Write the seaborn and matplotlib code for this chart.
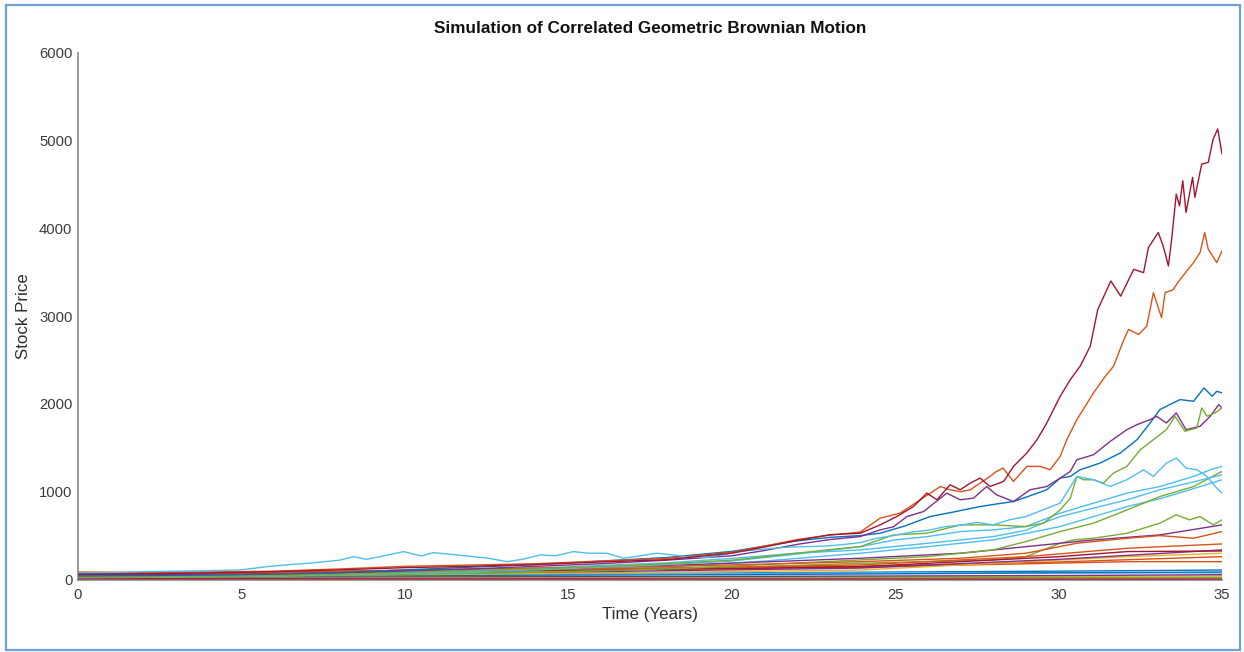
import matplotlib
matplotlib.use("Agg")
import matplotlib.pyplot as plt
from matplotlib.patches import Rectangle
import numpy as np
import pandas as pd
import seaborn as sns

# ---- simulated price paths (years, price) ----
red_t = [0, 2, 4, 6, 8, 10, 12, 14, 16, 18, 20, 21, 22, 23, 23.93, 24.54, 25.05, 25.56, 25.97, 26.28,
         26.68, 26.99, 27.3, 27.6, 27.9, 28.32, 28.62, 29.03, 29.34, 29.64, 30.05, 30.36, 30.66,
         30.97, 31.2, 31.6, 31.9, 32.3, 32.6, 32.75, 33.05, 33.2, 33.36, 33.46, 33.6, 33.7, 33.8,
         33.9, 34.1, 34.17, 34.38, 34.58, 34.73, 34.87, 35]
red_v = [60, 65, 75, 90, 110, 135, 150, 170, 200, 225, 300, 370, 445, 510, 527, 622, 717, 831, 984, 908,
         1079, 1022, 1098, 1155, 1059, 1117, 1288, 1441, 1592, 1783, 2087, 2277, 2429,
         2658, 3076, 3400, 3228, 3533, 3495, 3781, 3952, 3799, 3571, 3876, 4389, 4256, 4541,
         4180, 4580, 4352, 4732, 4751, 5017, 5131, 4846]

orange_t = [0, 2, 4, 6, 8, 10, 12, 14, 16, 18, 20, 21, 22, 23, 23.93, 24.54, 25.15, 25.77, 26.38, 26.68,
            27.0, 27.3, 27.9, 28.1, 28.3, 28.62, 29.03, 29.44, 29.74, 30.05, 30.25, 30.56, 31.07,
            31.4, 31.68, 32.0, 32.14, 32.45, 32.7, 32.9, 33.15, 33.26, 33.5, 33.72, 34.13, 34.33,
            34.47, 34.58, 34.84, 35]
orange_v = [85, 80, 85, 95, 120, 150, 165, 180, 210, 240, 310, 380, 455, 505, 540, 698, 756, 908, 1059, 1022,
            1000, 1022, 1174, 1231, 1269, 1117, 1288, 1288, 1250, 1402, 1592, 1821, 2126,
            2300, 2429, 2734, 2848, 2791, 2886, 3267, 2982, 3267, 3300, 3419, 3610, 3724,
            3952, 3761, 3610, 3742]

blue_t = [0, 2, 4, 6, 8, 10, 12, 14, 16, 18, 20, 21, 22, 23, 23.93, 24.54, 25.3, 26.07, 26.8, 27.6,
          28.1, 28.62, 29.1, 29.64, 30.05, 30.36, 30.66, 31.27, 31.89, 32.4, 32.8, 33.1, 33.4,
          33.72, 34.13, 34.45, 34.7, 34.84, 35]
blue_v = [40, 45, 50, 60, 80, 110, 140, 170, 210, 250, 320, 380, 440, 480, 500, 527, 610, 717, 770, 831,
          860, 888, 950, 1022, 1155, 1174, 1250, 1326, 1441, 1592, 1783, 1935, 1992,
          2049, 2030, 2182, 2087, 2144, 2125]

purple_t = [0, 2, 4, 6, 8, 10, 12, 14, 16, 18, 20, 21, 22, 23, 23.93, 24.54, 24.95, 25.36, 25.87, 26.58,
            26.99, 27.4, 27.8, 28.1, 28.62, 29.13, 29.64, 30.05, 30.36, 30.56, 31.07, 31.58, 32.09,
            32.4, 32.8, 33.0, 33.3, 33.6, 33.9, 34.33, 34.64, 34.9, 35]
purple_v = [30, 35, 40, 50, 70, 95, 120, 150, 180, 220, 270, 330, 400, 455, 489, 565, 600, 717, 774, 984,
            908, 927, 1059, 965, 888, 1022, 1059, 1155, 1231, 1364, 1421, 1573, 1707,
            1764, 1821, 1859, 1783, 1897, 1707, 1745, 1859, 1992, 1954]

green_t = [0, 2, 4, 6, 8, 10, 12, 14, 16, 18, 20, 21, 22, 23, 23.93, 24.95, 25.97, 27.0, 28.0, 29.0,
           29.54, 30.05, 30.36, 30.56, 30.76, 31.07, 31.37, 31.68, 32.09, 32.5, 32.9, 33.3, 33.56,
           33.87, 34.23, 34.38, 34.54, 34.8, 35]
green_v = [25, 30, 35, 45, 60, 80, 100, 120, 150, 180, 220, 260, 300, 340, 374, 508, 527, 622, 622, 603,
           642, 793, 927, 1174, 1136, 1136, 1098, 1212, 1288, 1478, 1592, 1707, 1859,
           1688, 1726, 1954, 1859, 1900, 1954]

cyan_t = [0, 1, 2, 3, 4, 5, 5.77, 6.5, 7.2, 8.0, 8.43, 8.83, 9.3, 9.96, 10.5, 10.87, 11.59, 12.1, 12.6,
          13.12, 13.6, 14.14, 14.6, 15.16, 15.6, 16.18, 16.69, 17.2, 17.71, 18.2, 18.73, 19.24, 19.7,
          20.26, 20.8, 21.28, 21.8, 22.3, 22.8, 23.32, 23.93, 24.44, 24.95, 25.5, 26.0, 26.5, 27.0,
          27.5, 28.0, 28.5, 29.0, 29.5, 30.05, 30.56, 31.07, 31.58, 32.09, 32.6, 32.9, 33.3, 33.6,
          33.9, 34.23, 34.54, 34.84, 35]
cyan_v = [75, 80, 89, 95, 100, 110, 146, 170, 190, 220, 260, 230, 265, 318, 268, 306, 280, 260, 240,
          203, 230, 280, 270, 318, 300, 299, 242, 270, 299, 280, 253, 253, 280, 318, 340, 356, 370,
          374, 380, 394, 420, 470, 500, 540, 560, 600, 620, 650, 622, 680, 717, 790, 870, 1174, 1136,
          1059, 1136, 1250, 1174, 1326, 1383, 1269, 1250, 1174, 1041, 984]

cyan2_t = [0, 2, 4, 6, 8, 10, 12, 14, 16, 18, 20, 22, 23.93, 25, 26, 27, 28, 29, 30.05, 31.07, 32.1,
           33.1, 34.13, 34.64, 35]
cyan2_v = [20, 25, 30, 40, 55, 70, 90, 110, 140, 170, 210, 290, 374, 451, 489, 546, 565, 603, 756, 870,
           984, 1059, 1174, 1250, 1288]

cyan3_t = [0, 2, 4, 6, 8, 10, 12, 14, 16, 18, 20, 22, 23.93, 26, 28, 29, 29.5, 30.05, 31.07, 32.1,
           33.1, 34, 35]
cyan3_v = [35, 40, 45, 55, 70, 90, 110, 130, 160, 190, 240, 300, 337, 413, 489, 560, 640, 717, 813, 908,
           1022, 1100, 1193]

cyan4_t = [0, 3, 6, 9, 12, 15, 18, 21, 23.93, 26, 28, 30.05, 32.1, 33.1, 34, 35]
cyan4_v = [30, 35, 45, 60, 80, 105, 140, 210, 299, 374, 451, 603, 831, 920, 1020, 1136]

green2_t = [0, 3, 6, 9, 12, 15, 18, 21, 23.93, 25.97, 28, 29, 30.05, 31.07, 32.1, 33.1, 34.13, 35]
green2_v = [30, 35, 40, 55, 70, 90, 120, 170, 223, 260, 337, 432, 546, 642, 793, 945, 1059, 1231]

green3_t = [0, 3, 6, 9, 12, 15, 18, 21, 23.93, 28, 29, 30.05, 30.46, 31.07, 32.1, 33.1, 33.6, 34.0,
            34.33, 34.73, 35]
green3_v = [45, 50, 55, 70, 85, 100, 120, 150, 185, 223, 260, 413, 451, 470, 527, 642, 736, 680,
            717, 622, 679]

purple2_t = [0, 3, 6, 9, 12, 15, 18, 21, 23.93, 27, 29, 31.07, 33.1, 35]
purple2_v = [50, 55, 65, 90, 110, 130, 160, 200, 242, 299, 374, 451, 508, 622]

orange2_t = [0, 3, 6, 9, 12, 15, 18, 21, 23.93, 27, 29, 30.56, 32.1, 33.1, 34.13, 35]
orange2_v = [70, 75, 80, 100, 120, 135, 150, 175, 203, 242, 299, 413, 470, 500, 470, 546]

orange3_t = [0, 4, 8, 12, 16, 20, 23.93, 29, 32.1, 35]
orange3_v = [60, 65, 80, 100, 120, 140, 166, 260, 356, 405]

red2_t = [0, 4, 8, 12, 16, 20, 23.93, 27, 30, 32.1, 35]
red2_v = [55, 60, 75, 95, 110, 125, 146, 203, 260, 318, 325]

purple3_t = [0, 4, 8, 12, 16, 20, 23.93, 30, 35]
purple3_v = [45, 50, 60, 75, 90, 110, 130, 230, 337]

yellow_t = [0, 4, 8, 12, 16, 20, 23.93, 32.1, 35]
yellow_v = [35, 40, 50, 60, 75, 90, 108, 260, 299]

orange4_t = [0, 4, 8, 12, 16, 20, 23.93, 32.1, 35]
orange4_v = [65, 70, 85, 100, 110, 125, 140, 203, 203]

orange5_t = [0, 4, 8, 12, 16, 20, 23.93, 30, 35]
orange5_v = [75, 80, 95, 110, 125, 140, 150, 200, 260]

blue2_t = [0, 5, 10, 15, 20, 25, 30, 35]
blue2_v = [45, 50, 60, 65, 75, 85, 95, 108]

blue3_t = [0, 5, 10, 15, 20, 25, 30, 35]
blue3_v = [35, 40, 45, 50, 55, 65, 75, 85]

yellow2_t = [0, 5, 10, 15, 20, 25, 30, 35]
yellow2_v = [20, 22, 25, 28, 30, 33, 36, 40]

red3_t = [0, 5, 10, 15, 20, 25, 30, 35]
red3_v = [8, 8, 7, 7, 6, 6, 6, 6]

green4_t = [0, 5, 10, 15, 20, 25, 30, 35]
green4_v = [15, 16, 17, 18, 19, 20, 22, 24]

purple4_t = [0, 5, 10, 15, 20, 25, 30, 35]
purple4_v = [25, 27, 30, 32, 35, 40, 45, 55]

cyan5_t = [0, 5, 10, 15, 20, 25, 30, 35]
cyan5_v = [55, 58, 62, 66, 70, 75, 78, 75]

# MATLAB-style default colour order
C_BLUE = (0.0, 0.447, 0.741)
C_ORANGE = (0.850, 0.325, 0.098)
C_YELLOW = (0.929, 0.694, 0.125)
C_PURPLE = (0.494, 0.184, 0.556)
C_GREEN = (0.466, 0.674, 0.188)
C_CYAN = (0.301, 0.745, 0.933)
C_RED = (0.635, 0.078, 0.184)

paths = [
    ("s01", blue2_t, blue2_v, C_BLUE),
    ("s02", orange5_t, orange5_v, C_ORANGE),
    ("s03", yellow2_t, yellow2_v, C_YELLOW),
    ("s04", purple4_t, purple4_v, C_PURPLE),
    ("s05", green4_t, green4_v, C_GREEN),
    ("s06", cyan5_t, cyan5_v, C_CYAN),
    ("s07", red3_t, red3_v, C_RED),
    ("s08", blue3_t, blue3_v, C_BLUE),
    ("s09", orange4_t, orange4_v, C_ORANGE),
    ("s10", yellow_t, yellow_v, C_YELLOW),
    ("s11", purple3_t, purple3_v, C_PURPLE),
    ("s12", green3_t, green3_v, C_GREEN),
    ("s13", cyan4_t, cyan4_v, C_CYAN),
    ("s14", red2_t, red2_v, C_RED),
    ("s15", orange3_t, orange3_v, C_ORANGE),
    ("s16", purple2_t, purple2_v, C_PURPLE),
    ("s17", green2_t, green2_v, C_GREEN),
    ("s18", cyan3_t, cyan3_v, C_CYAN),
    ("s19", orange2_t, orange2_v, C_ORANGE),
    ("s20", cyan2_t, cyan2_v, C_CYAN),
    ("s21", blue_t, blue_v, C_BLUE),
    ("s22", orange_t, orange_v, C_ORANGE),
    ("s23", purple_t, purple_v, C_PURPLE),
    ("s24", green_t, green_v, C_GREEN),
    ("s25", cyan_t, cyan_v, C_CYAN),
    ("s26", red_t, red_v, C_RED),
]

frames = []
for name, t, v, _ in paths:
    frames.append(pd.DataFrame({"year": t, "price": v, "stock": name}))
df = pd.concat(frames, ignore_index=True)
palette = {name: col for name, _, _, col in paths}

sns.set_theme(style="white")
plt.rcParams["font.family"] = ["Liberation Sans", "DejaVu Sans"]

W, H = 1244, 652
fig = plt.figure(figsize=(W / 100, H / 100), dpi=100)
ax = fig.add_axes([78 / W, 1 - 579.5 / H, 1144 / W, 526.8 / H])

sns.lineplot(data=df, x="year", y="price", hue="stock", palette=palette,
             estimator=None, sort=False, legend=False, linewidth=1.0, ax=ax, zorder=3)

ax.set_xlim(0, 35)
ax.set_ylim(0, 6000)
ax.set_xticks(np.arange(0, 36, 5))
ax.set_yticks(np.arange(0, 6001, 1000))

grey = "#8a8a8a"
for side in ("top", "right"):
    ax.spines[side].set_visible(False)
for side in ("left", "bottom"):
    ax.spines[side].set_color(grey)
    ax.spines[side].set_linewidth(1.2)

ax.tick_params(axis="both", direction="in", length=7, width=1.0, color=grey,
               labelsize=10.7, labelcolor="#3c3c3c")
ax.tick_params(axis="y", pad=4)
ax.tick_params(axis="x", pad=6)

ax.set_xlabel("Time (Years)", fontsize=12.2, color="#2e2e2e")
ax.set_ylabel("Stock Price", fontsize=12.2, color="#2e2e2e")
ax.xaxis.set_label_coords(0.5, (579.5 - 615) / 526.8)
ax.xaxis.label.set_va("center")
ax.yaxis.set_label_coords((24 - 78) / 1144, 0.5)
ax.yaxis.label.set_va("center")

ax.set_title("Simulation of Correlated Geometric Brownian Motion", fontsize=12.3,
             fontweight="bold", color="#111111", y=1 + (52.7 - 37) / 526.8, va="center")

# thin blue frame around the whole figure
fig.patches.append(Rectangle((5.5 / W, 1 - 650 / H), 1234 / W, 645.5 / H,
                             transform=fig.transFigure, fill=False,
                             edgecolor="#6aa3dc", linewidth=1.6))

fig.savefig("out.png", dpi=100)
